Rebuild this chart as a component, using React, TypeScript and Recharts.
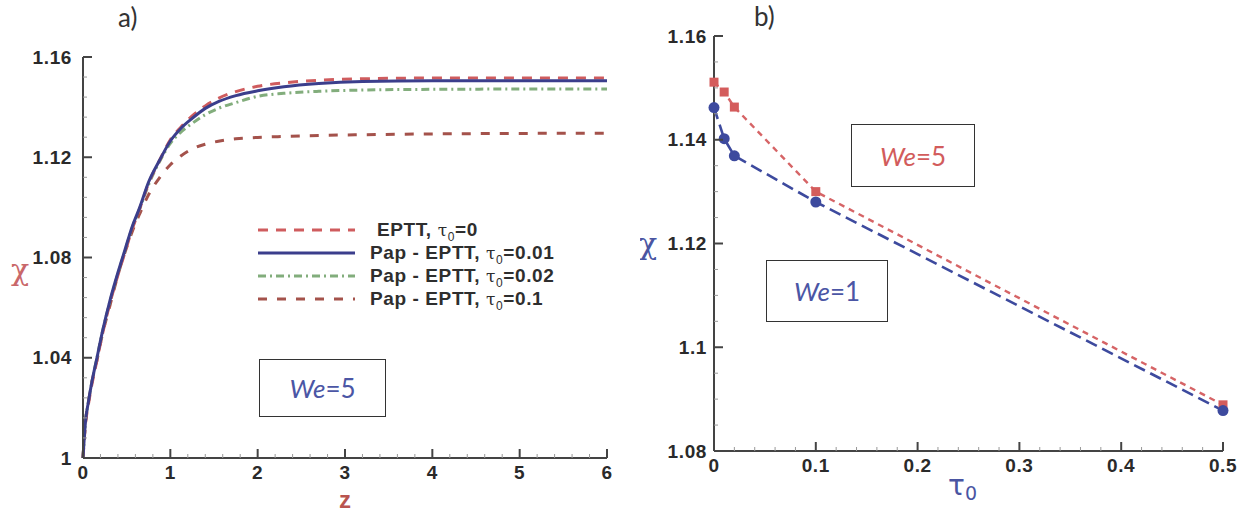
import React from 'react';
import { LineChart, Line, XAxis, YAxis, Legend, Label } from 'recharts';

// ---------- Panel a) data ----------
const zGrid = [0, 0.03, 0.06, 0.1, 0.16, 0.22, 0.31, 0.4, 0.48, 0.56, 0.65, 0.75, 0.88, 1.0, 1.12, 1.25, 1.4, 1.55, 1.75, 2.0, 2.3, 2.7, 3.2, 4, 5, 6];
const chiEPTT0 = [1.0, 1.014, 1.021, 1.029, 1.039, 1.049, 1.062, 1.073, 1.082, 1.091, 1.0995, 1.1095, 1.119, 1.127, 1.132, 1.1365, 1.1405, 1.1435, 1.1462, 1.1483, 1.1497, 1.1507, 1.1513, 1.1516, 1.1516, 1.1516];
const chiPap001 = [1.0, 1.015, 1.022, 1.03, 1.04, 1.05, 1.063, 1.074, 1.083, 1.092, 1.1, 1.11, 1.119, 1.1265, 1.1315, 1.1355, 1.1395, 1.1422, 1.1446, 1.1465, 1.1481, 1.1494, 1.1502, 1.1505, 1.1505, 1.1505];
const chiPap002 = [1.0, 1.015, 1.022, 1.03, 1.04, 1.05, 1.0625, 1.0735, 1.0825, 1.0915, 1.0995, 1.109, 1.1185, 1.1255, 1.13, 1.1335, 1.137, 1.1395, 1.1418, 1.1443, 1.1455, 1.1463, 1.1468, 1.1471, 1.1472, 1.1472];
const chiPap01 = [1.0, 1.015, 1.022, 1.03, 1.039, 1.049, 1.061, 1.073, 1.082, 1.09, 1.0975, 1.105, 1.112, 1.117, 1.1205, 1.1233, 1.1252, 1.1264, 1.1274, 1.1279, 1.1283, 1.1287, 1.129, 1.1293, 1.1295, 1.1296];

// ---------- Panel b) data ----------
const tau0Values = [0, 0.01, 0.02, 0.1, 0.5];
const chiWe5 = [1.1511, 1.1492, 1.1463, 1.13, 1.0889];
const chiWe1 = [1.1462, 1.1402, 1.1369, 1.128, 1.0878];

// ---------- Ticks ----------
const xMajorA = [0, 1, 2, 3, 4, 5, 6];
const xLabelsA = ['0', '1', '2', '3', '4', '5', '6'];
const yMajorA = [1, 1.04, 1.08, 1.12, 1.16];
const yLabelsA = ['1', '1.04', '1.08', '1.12', '1.16'];
const xMajorB = [0, 0.1, 0.2, 0.3, 0.4, 0.5];
const xLabelsB = ['0', '0.1', '0.2', '0.3', '0.4', '0.5'];
const yMajorB = [1.08, 1.1, 1.12, 1.14, 1.16];
const yLabelsB = ['1.08', '1.1', '1.12', '1.14', '1.16'];

function withMinor(majors: number[], parts: number): number[] {
  const out: number[] = [];
  for (let i = 0; i < majors.length; i++) {
    out.push(majors[i]);
    if (i < majors.length - 1) {
      const step = (majors[i + 1] - majors[i]) / parts;
      for (let k = 1; k < parts; k++) out.push(majors[i] + k * step);
    }
  }
  return out;
}

const dataA = zGrid.map((z, i) => ({
  z,
  eptt0: chiEPTT0[i],
  pap001: chiPap001[i],
  pap002: chiPap002[i],
  pap01: chiPap01[i],
}));

const dataB = tau0Values.map((t, i) => ({ tau: t, we5: chiWe5[i], we1: chiWe1[i] }));

const TICK_FONT = '"Liberation Sans", Arial, Helvetica, sans-serif';
const TICK_MARGIN = 0;

function labelFor(v: number, majors: number[], labels: string[]): string | null {
  const idx = majors.findIndex((m) => Math.abs(m - v) < 1e-9);
  return idx >= 0 ? labels[idx] : null;
}

function makeXTick(majors: number[], labels: string[]) {
  return (props: any) => {
    const { x, y, payload } = props;
    const axisY = y - TICK_MARGIN;
    const lab = labelFor(payload.value, majors, labels);
    const major = lab !== null;
    return (
      <g>
        <line x1={x} x2={x} y1={axisY} y2={axisY - (major ? 9 : 4)} stroke={major ? '#444' : '#999'} strokeWidth={major ? 2 : 1} />
        {major && (
          <text x={x} y={axisY + 14} textAnchor="middle" dominantBaseline="central" fontFamily={TICK_FONT} fontWeight="bold" fontSize={19} letterSpacing={0.6} fill="#2a2a2a">
            {lab}
          </text>
        )}
      </g>
    );
  };
}

function makeYTick(majors: number[], labels: string[], gap: number) {
  return (props: any) => {
    const { x, y, payload } = props;
    const axisX = x + TICK_MARGIN;
    const lab = labelFor(payload.value, majors, labels);
    const major = lab !== null;
    return (
      <g>
        <line x1={axisX} x2={axisX + (major ? 9 : 4)} y1={y} y2={y} stroke={major ? '#444' : '#999'} strokeWidth={major ? 2 : 1} />
        {major && (
          <text x={axisX - gap} y={y} textAnchor="end" dominantBaseline="central" fontFamily={TICK_FONT} fontWeight="bold" fontSize={19} letterSpacing={0.6} fill="#2a2a2a">
            {lab}
          </text>
        )}
      </g>
    );
  };
}

const SERIES_A = [
  { key: 'pap01', name: 'Pap - EPTT', tau: '0.1', color: '#a4524b', dash: '9 10', width: 3 },
  { key: 'pap002', name: 'Pap - EPTT', tau: '0.02', color: '#82ad7c', dash: '8 4 2 4', width: 3 },
  { key: 'eptt0', name: 'EPTT', tau: '0', color: '#cf5c5e', dash: '10 8', width: 3 },
  { key: 'pap001', name: 'Pap - EPTT', tau: '0.01', color: '#3b3e8c', dash: undefined as string | undefined, width: 3 },
];
const LEGEND_ORDER = ['eptt0', 'pap001', 'pap002', 'pap01'];

const LegendA = () => (
  <div style={{ fontFamily: TICK_FONT, fontWeight: 'bold', fontSize: 19, letterSpacing: 0.6, color: '#2e2e2e' }}>
    {LEGEND_ORDER.map((k, i) => {
      const s = SERIES_A.find((x) => x.key === k)!;
      return (
        <div key={k} style={{ display: 'flex', alignItems: 'center', height: 23 }}>
          <svg width={97} height={8} style={{ flex: 'none' }}>
            <line x1={0} x2={97} y1={4} y2={4} stroke={s.color} strokeWidth={s.width} strokeDasharray={s.dash} />
          </svg>
          <span style={{ marginLeft: i === 0 ? 22 : 15, whiteSpace: 'nowrap', lineHeight: '23px' }}>
            {s.name},{' '}
            <span style={{ fontWeight: 'normal', fontFamily: '"DejaVu Serif", serif', fontSize: 17 }}>τ</span>
            <sub style={{ fontWeight: 'normal', fontSize: 12, lineHeight: 0 }}>0</sub>={s.tau}
          </span>
        </div>
      );
    })}
  </div>
);

const SquareDot = (props: any) => {
  const { cx, cy } = props;
  return <rect x={cx - 4.5} y={cy - 4.5} width={9} height={9} fill="#d45c5c" />;
};
const CircleDot = (props: any) => {
  const { cx, cy } = props;
  return <circle cx={cx} cy={cy} r={5.5} fill="#3d4a9e" />;
};

const boxStyle: React.CSSProperties = {
  position: 'absolute',
  border: '1.5px solid #333',
  display: 'flex',
  alignItems: 'center',
  justifyContent: 'center',
  fontFamily: 'Lato, "Open Sans", sans-serif',
  fontSize: 26,
  background: '#fff',
  boxSizing: 'border-box',
};

export default function App() {
  return (
    <div style={{ position: 'absolute', left: 0, top: 0, width: 1240, height: 514, background: '#fff', overflow: 'hidden' }}>
      {/* Panel a */}
      <div style={{ position: 'absolute', left: 0, top: 0 }}>
        <LineChart width={640} height={514} data={dataA} margin={{ top: 57, right: 33, left: 0, bottom: 0 }}>
          <XAxis
            dataKey="z"
            type="number"
            domain={[0, 6]}
            ticks={withMinor(xMajorA, 5)}
            interval={0}
            height={56}
            tickSize={0}
            tickMargin={TICK_MARGIN}
            tickLine={false}
            axisLine={{ stroke: '#444', strokeWidth: 2 }}
            tick={makeXTick(xMajorA, xLabelsA)}
          >
            <Label
              content={(p: any) => {
                const vb = p.viewBox;
                return (
                  <text x={vb.x + vb.width / 2} y={vb.y + 41} textAnchor="middle" dominantBaseline="central" fontFamily={TICK_FONT} fontWeight="bold" fontSize={24} fill="#b9544f">
                    z
                  </text>
                );
              }}
            />
          </XAxis>
          <YAxis
            type="number"
            domain={[1, 1.16]}
            ticks={withMinor(yMajorA, 5)}
            interval={0}
            width={83}
            tickSize={0}
            tickMargin={TICK_MARGIN}
            tickLine={false}
            axisLine={{ stroke: '#444', strokeWidth: 2 }}
            tick={makeYTick(yMajorA, yLabelsA, 11)}
          >
            <Label
              content={(p: any) => {
                const vb = p.viewBox;
                return (
                  <text x={vb.x + 20} y={vb.y + vb.height / 2 + 12} textAnchor="middle" dominantBaseline="central" fontFamily='"DejaVu Serif", serif' fontSize={30} fill="#c9676a">
                    χ
                  </text>
                );
              }}
            />
          </YAxis>
          {SERIES_A.map((s) => (
            <Line
              key={s.key}
              dataKey={s.key}
              name={s.name}
              type="monotone"
              stroke={s.color}
              strokeWidth={s.width}
              strokeDasharray={s.dash}
              dot={false}
              isAnimationActive={false}
            />
          ))}
          <Legend content={<LegendA />} verticalAlign="middle" align="center" layout="horizontal" wrapperStyle={{ left: 258, top: 218, width: 380 }} />
        </LineChart>
      </div>

      {/* Panel b */}
      <div style={{ position: 'absolute', left: 640, top: 0 }}>
        <LineChart width={600} height={514} data={dataB} margin={{ top: 36, right: 17, left: 0, bottom: 0 }}>
          <XAxis
            dataKey="tau"
            type="number"
            domain={[0, 0.5]}
            ticks={withMinor(xMajorB, 5)}
            interval={0}
            height={63}
            tickSize={0}
            tickMargin={TICK_MARGIN}
            tickLine={false}
            axisLine={{ stroke: '#444', strokeWidth: 2 }}
            tick={makeXTick(xMajorB, xLabelsB)}
          >
            <Label
              content={(p: any) => {
                const vb = p.viewBox;
                return (
                  <text x={vb.x + vb.width / 2 - 6} y={vb.y + 34} textAnchor="middle" dominantBaseline="central" fontFamily='"DejaVu Sans", sans-serif' fontSize={28} fill="#4a55a2">
                    τ
                    <tspan fontSize={19} dy={8}>0</tspan>
                  </text>
                );
              }}
            />
          </XAxis>
          <YAxis
            type="number"
            domain={[1.08, 1.16]}
            ticks={withMinor(yMajorB, 4)}
            interval={0}
            width={74}
            tickSize={0}
            tickMargin={TICK_MARGIN}
            tickLine={false}
            axisLine={{ stroke: '#444', strokeWidth: 2 }}
            tick={makeYTick(yMajorB, yLabelsB, 7)}
          >
            <Label
              content={(p: any) => {
                const vb = p.viewBox;
                return (
                  <text x={vb.x + 8} y={vb.y + vb.height / 2} textAnchor="middle" dominantBaseline="central" fontFamily='"DejaVu Serif", serif' fontSize={30} fill="#4a55a2">
                    χ
                  </text>
                );
              }}
            />
          </YAxis>
          <Line dataKey="we5" name="We=5" type="linear" stroke="#d66466" strokeWidth={2.4} strokeDasharray="6 5" dot={<SquareDot />} isAnimationActive={false} />
          <Line dataKey="we1" name="We=1" type="linear" stroke="#3d4a9e" strokeWidth={2.6} strokeDasharray="12 6" dot={<CircleDot />} isAnimationActive={false} />
        </LineChart>
      </div>

      {/* Titles */}
      <div style={{ position: 'absolute', left: 118, top: 2, fontFamily: 'Lato, "Open Sans", sans-serif', fontSize: 26, lineHeight: '30px', color: '#333' }}>a)</div>
      <div style={{ position: 'absolute', left: 754, top: 1, fontFamily: 'Lato, "Open Sans", sans-serif', fontSize: 26, lineHeight: '30px', color: '#333' }}>b)</div>

      {/* Annotation boxes */}
      <div style={{ ...boxStyle, left: 259, top: 359, width: 127, height: 58, color: '#4b56a5' }}>
        <span style={{ fontStyle: 'italic' }}>We</span>=5
      </div>
      <div style={{ ...boxStyle, left: 851, top: 124, width: 124, height: 63, color: '#d25c5c' }}>
        <span style={{ fontStyle: 'italic' }}>We</span>=5
      </div>
      <div style={{ ...boxStyle, left: 766, top: 260, width: 122, height: 62, color: '#4b56a5' }}>
        <span style={{ fontStyle: 'italic' }}>We</span>=1
      </div>
    </div>
  );
}
